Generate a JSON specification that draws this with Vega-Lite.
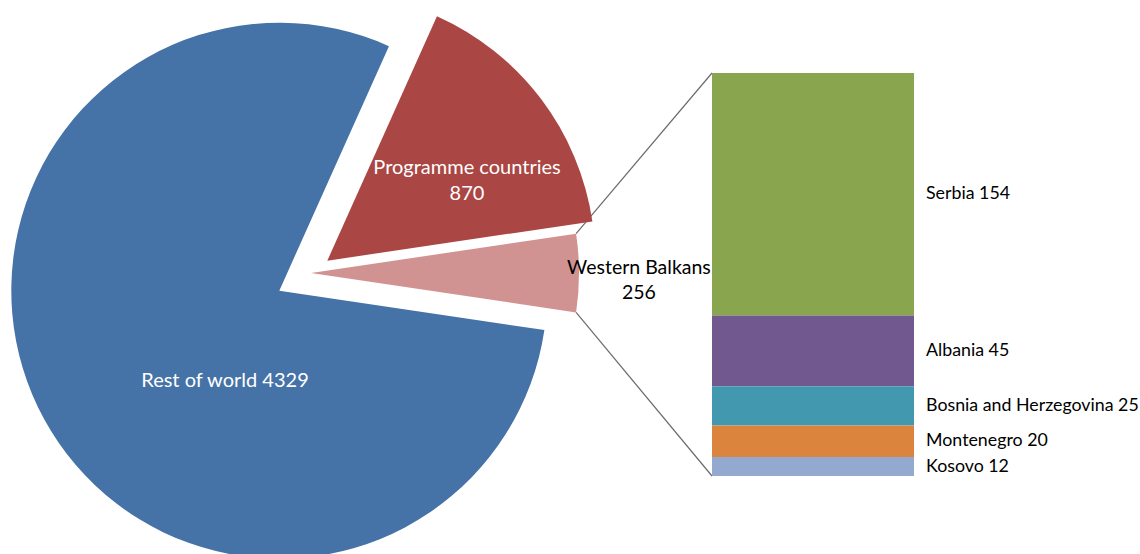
{
  "$schema": "https://vega.github.io/schema/vega-lite/v6.json",
  "width": 1140,
  "height": 554,
  "autosize": {"type": "none"},
  "padding": 0,
  "background": "#ffffff",
  "config": {"view": {"stroke": null}, "text": {"font": "Lato"}},
  "datasets": {
    "pie": [
      {"category": "Programme countries", "value": 870},
      {"category": "Western Balkans", "value": 256},
      {"category": "Rest of world", "value": 4329}
    ],
    "bar": [
      {"country": "Serbia", "value": 154},
      {"country": "Albania", "value": 45},
      {"country": "Bosnia and Herzegovina", "value": 25},
      {"country": "Montenegro", "value": 20},
      {"country": "Kosovo", "value": 12}
    ]
  },
  "layer": [
    {
      "data": {"name": "pie"},
      "transform": [{"filter": "datum.category === 'Western Balkans'"}],
      "mark": {"type": "rule", "color": "#6b6b6b", "strokeWidth": 1.2},
      "encoding": {
        "x": {"datum": 62.456, "type": "quantitative", "scale": {"domain": [0, 100], "nice": false, "zero": false}, "axis": null},
        "y": {"field": "value", "type": "quantitative", "scale": {"domain": [-49.55, 302.37], "nice": false, "zero": false}, "axis": null},
        "x2": {"datum": 50.535},
        "y2": {"datum": 153.98}
      }
    },
    {
      "data": {"name": "pie"},
      "transform": [{"filter": "datum.category === 'Western Balkans'"}],
      "mark": {"type": "rule", "color": "#6b6b6b", "strokeWidth": 1.2},
      "encoding": {
        "x": {"datum": 62.456, "type": "quantitative", "scale": {"domain": [0, 100], "nice": false, "zero": false}, "axis": null},
        "y": {"datum": 0, "type": "quantitative", "scale": {"domain": [-49.55, 302.37], "nice": false, "zero": false}, "axis": null},
        "x2": {"datum": 50.535},
        "y2": {"datum": 103.93}
      }
    },
    {
      "data": {"name": "pie"},
      "transform": [
        {"window": [{"op": "sum", "field": "value", "as": "cum"}], "frame": [null, 0]},
        {"joinaggregate": [{"op": "sum", "field": "value", "as": "total"}]},
        {"calculate": "(datum.cum - datum.value) / datum.total", "as": "f0"},
        {"calculate": "datum.cum / datum.total", "as": "f1"}
      ],
      "layer": [
        {
          "transform": [{"filter": "datum.category === 'Rest of world'"}],
          "mark": {"type": "arc", "radius": 268, "fill": "#4572A7"},
          "encoding": {
            "x": {"datum": 24.5, "type": "quantitative", "scale": {"domain": [0, 100], "nice": false, "zero": false}, "axis": null},
            "y": {"datum": 117.71, "type": "quantitative", "scale": {"domain": [-49.55, 302.37], "nice": false, "zero": false}, "axis": null},
            "theta": {"field": "f0", "type": "quantitative", "scale": {"domain": [0, 1], "range": [0.4215, 6.70469]}},
            "theta2": {"field": "f1"}
          }
        },
        {
          "transform": [{"filter": "datum.category === 'Western Balkans'"}],
          "mark": {"type": "arc", "radius": 268, "fill": "#D19392"},
          "encoding": {
            "x": {"datum": 27.281, "type": "quantitative", "scale": {"domain": [0, 100], "nice": false, "zero": false}, "axis": null},
            "y": {"datum": 128.95, "type": "quantitative", "scale": {"domain": [-49.55, 302.37], "nice": false, "zero": false}, "axis": null},
            "theta": {"field": "f0", "type": "quantitative", "scale": {"domain": [0, 1], "range": [0.4215, 6.70469]}},
            "theta2": {"field": "f1"}
          }
        },
        {
          "transform": [{"filter": "datum.category === 'Programme countries'"}],
          "mark": {"type": "arc", "radius": 268, "fill": "#AA4643"},
          "encoding": {
            "x": {"datum": 28.711, "type": "quantitative", "scale": {"domain": [0, 100], "nice": false, "zero": false}, "axis": null},
            "y": {"datum": 136.77, "type": "quantitative", "scale": {"domain": [-49.55, 302.37], "nice": false, "zero": false}, "axis": null},
            "theta": {"field": "f0", "type": "quantitative", "scale": {"domain": [0, 1], "range": [0.4215, 6.70469]}},
            "theta2": {"field": "f1"}
          }
        },
        {
          "transform": [
            {"filter": "datum.category === 'Programme countries'"},
            {"calculate": "datum.category + '\\n' + datum.value", "as": "label"}
          ],
          "mark": {"type": "text", "fontSize": 20, "fill": "#ffffff", "align": "center", "baseline": "middle", "lineBreak": "\n", "lineHeight": 26},
          "encoding": {
            "x": {"datum": 40.965, "type": "quantitative", "scale": {"domain": [0, 100], "nice": false, "zero": false}, "axis": null},
            "y": {"datum": 195.66, "type": "quantitative", "scale": {"domain": [-49.55, 302.37], "nice": false, "zero": false}, "axis": null},
            "text": {"field": "label"}
          }
        },
        {
          "transform": [
            {"filter": "datum.category === 'Western Balkans'"},
            {"calculate": "datum.category + '\\n' + datum.value", "as": "label"}
          ],
          "mark": {"type": "text", "fontSize": 19.5, "fill": "#000000", "align": "center", "baseline": "middle", "lineBreak": "\n", "lineHeight": 25},
          "encoding": {
            "x": {"datum": 56.05, "type": "quantitative", "scale": {"domain": [0, 100], "nice": false, "zero": false}, "axis": null},
            "y": {"datum": 132.13, "type": "quantitative", "scale": {"domain": [-49.55, 302.37], "nice": false, "zero": false}, "axis": null},
            "text": {"field": "label"}
          }
        },
        {
          "transform": [
            {"filter": "datum.category === 'Rest of world'"},
            {"calculate": "datum.category + ' ' + datum.value", "as": "label"}
          ],
          "mark": {"type": "text", "fontSize": 20, "fill": "#ffffff", "align": "center", "baseline": "middle"},
          "encoding": {
            "x": {"datum": 19.737, "type": "quantitative", "scale": {"domain": [0, 100], "nice": false, "zero": false}, "axis": null},
            "y": {"datum": 60.35, "type": "quantitative", "scale": {"domain": [-49.55, 302.37], "nice": false, "zero": false}, "axis": null},
            "text": {"field": "label"}
          }
        }
      ]
    },
    {
      "data": {"name": "bar"},
      "transform": [
        {"window": [{"op": "row_number", "as": "idx"}]},
        {"stack": "value", "groupby": [], "sort": [{"field": "idx", "order": "descending"}], "as": ["y0", "y1"]},
        {"calculate": "(datum.y0 + datum.y1) / 2", "as": "mid"},
        {"calculate": "datum.country + ' ' + datum.value", "as": "label"}
      ],
      "layer": [
        {
          "mark": {"type": "bar"},
          "encoding": {
            "x": {"datum": 62.456, "type": "quantitative", "scale": {"domain": [0, 100], "nice": false, "zero": false}, "axis": null},
            "x2": {"datum": 80.175},
            "y": {"field": "y0", "type": "quantitative", "scale": {"domain": [-49.55, 302.37], "nice": false, "zero": false}, "axis": null},
            "y2": {"field": "y1"},
            "color": {
              "field": "country",
              "type": "nominal",
              "scale": {
                "domain": ["Serbia", "Albania", "Bosnia and Herzegovina", "Montenegro", "Kosovo"],
                "range": ["#89A54E", "#71588F", "#4198AF", "#DB843D", "#93A9CF"]
              },
              "legend": null
            }
          }
        },
        {
          "mark": {"type": "text", "fontSize": 17.8, "fill": "#000000", "align": "left", "baseline": "middle"},
          "encoding": {
            "x": {"datum": 81.23, "type": "quantitative", "scale": {"domain": [0, 100], "nice": false, "zero": false}, "axis": null},
            "y": {"field": "mid", "type": "quantitative", "scale": {"domain": [-49.55, 302.37], "nice": false, "zero": false}, "axis": null},
            "text": {"field": "label"}
          }
        }
      ]
    }
  ]
}
